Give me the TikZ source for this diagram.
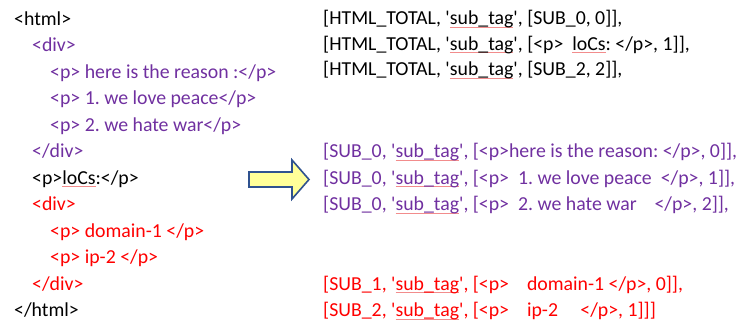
\documentclass[tikz,border=0pt]{standalone}
\usepackage{fontspec}
\setmainfont{Carlito}
\frenchspacing
\definecolor{tagpurple}{HTML}{7030A0}
\definecolor{tagred}{HTML}{FF0000}
\definecolor{squig}{HTML}{F28C8C}
\definecolor{arrowfill}{HTML}{FFFF99}
\definecolor{arrowline}{HTML}{2F528F}
% spell-check style underline under a word
\newcommand\sq[1]{\setbox0\hbox{#1}\rlap{\color{squig}\rule[-3pt]{\wd0}{0.6pt}}\box0}
\newcommand\qt{\textquotesingle}
\begin{document}
\begin{tikzpicture}[x=1pt,y=-1pt,
  code/.style={anchor=base west,inner sep=0pt,font=\fontsize{19.8}{24}\selectfont\frenchspacing},
  blk/.style={code,text=black},
  pur/.style={code,text=tagpurple},
  rd/.style={code,text=tagred}]
\useasboundingbox (0,0) rectangle (742,327);
% HTML source
\node[blk] (h0) at (14,25) {<html>};
\node[pur] (h1) at (32,51.5) {<div>};
\node[pur] (h2) at (50,78) {<p> here is the reason :</p>};
\node[pur] (h3) at (50,104.5) {<p> 1. we love peace</p>};
\node[pur] (h4) at (50,131) {<p> 2. we hate war</p>};
\node[pur] (h5) at (32,157.5) {</div>};
\node[blk] (h6) at (32,184) {<p>\sq{loCs}:</p>};
\node[rd]  (h7) at (32,210.5) {<div>};
\node[rd]  (h8) at (50,237) {<p> domain-1 </p>};
\node[rd]  (h9) at (50,263.5) {<p> ip-2 </p>};
\node[rd]  (h10) at (32,290) {</div>};
\node[blk] (h11) at (14,316.5) {</html>};
% transformation arrow
\draw[fill=arrowfill,draw=arrowline,line width=1.6pt,line join=miter]
  (249,172) -- (292,172) -- (292,160) -- (309,179.5) -- (292,199)
  -- (292,187) -- (249,187) -- cycle;
% extracted lists
\node[blk] (r0) at (323,24.5) {[HTML\_TOTAL, \qt\sq{sub\_tag}\qt, [SUB\_0, 0]],};
\node[blk] (r1) at (323,50) {[HTML\_TOTAL, \qt\sq{sub\_tag}\qt, [<p>~~\sq{loCs}: </p>, 1]],};
\node[blk] (r2) at (323,75.5) {[HTML\_TOTAL, \qt\sq{sub\_tag}\qt, [SUB\_2, 2]],};
\node[pur] (r3) at (323,157.5) {[SUB\_0, \qt\sq{sub\_tag}\qt, [<p>here is the reason: </p>, 0]],};
\node[pur] (r4) at (323,184) {[SUB\_0, \qt\sq{sub\_tag}\qt, [<p>~~1. we love peace~~</p>, 1]],};
\node[pur] (r5) at (323,210.5) {[SUB\_0, \qt\sq{sub\_tag}\qt, [<p>~~2. we hate war~~~~</p>, 2]],};
\node[rd]  (r6) at (323,290) {[SUB\_1, \qt\sq{sub\_tag}\qt, [<p>~~~~domain-1 </p>, 0]],};
\node[rd]  (r7) at (323,316.5) {[SUB\_2, \qt\sq{sub\_tag}\qt, [<p>~~~~ip-2~~~~~</p>, 1]]]};
\end{tikzpicture}
\end{document}
